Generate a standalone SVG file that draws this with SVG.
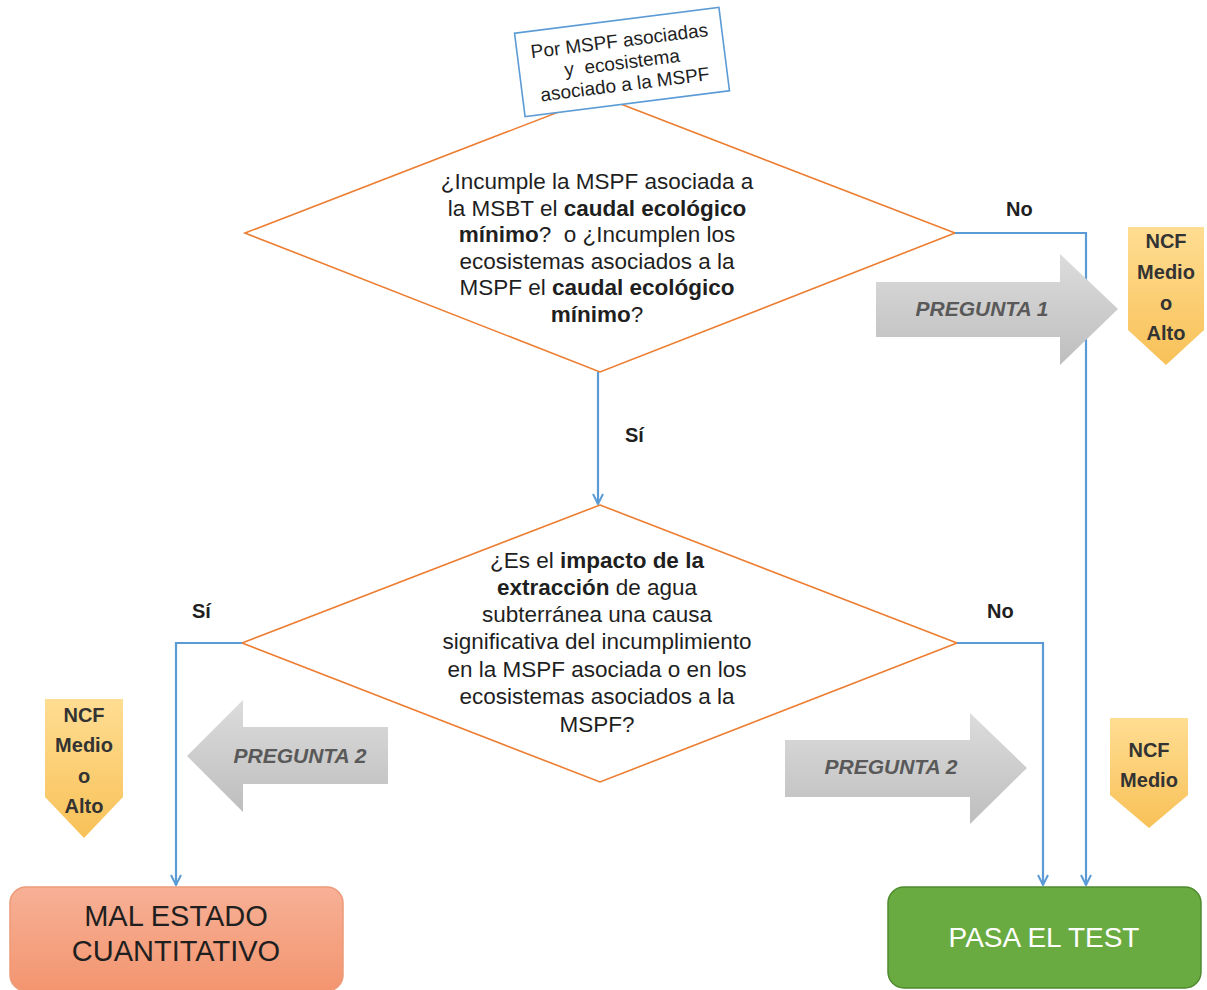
<svg xmlns="http://www.w3.org/2000/svg" width="1207" height="990" viewBox="0 0 1207 990">
  <style>
    text { font-family: "Liberation Sans", Arial, sans-serif; fill: #1f1f1f; }
    .q { font-size: 22.5px; text-anchor: middle; }
    .b { font-weight: bold; }
    .lbl { font-size: 20px; font-weight: bold; }
    .diamond { fill: #ffffff; stroke: #ED7D31; stroke-width: 1.6; }
    .conn { fill: none; stroke: #5B9BD5; stroke-width: 2.2; }
    .garrow { fill: url(#gray); }
    .gtext { font-size: 21px; font-weight: bold; font-style: italic; fill: #595959; text-anchor: middle; }
    .badge { fill: url(#gold); }
    .btext { font-size: 20px; font-weight: bold; fill: #333333; text-anchor: middle; }
    .big { font-size: 29px; text-anchor: middle; }
    .note { font-size: 19px; text-anchor: middle; }
  </style>
  <defs>
    <linearGradient id="gray" x1="0" y1="0" x2="0" y2="1">
      <stop offset="0" stop-color="#DCDCDC"/>
      <stop offset="1" stop-color="#BEBEBE"/>
    </linearGradient>
    <linearGradient id="gold" x1="0" y1="0" x2="0" y2="1">
      <stop offset="0" stop-color="#FFDD92"/>
      <stop offset="1" stop-color="#F8C158"/>
    </linearGradient>
    <linearGradient id="salmon" x1="0" y1="0" x2="0" y2="1">
      <stop offset="0" stop-color="#F7B096"/>
      <stop offset="1" stop-color="#F3956F"/>
    </linearGradient>
    <marker id="open" viewBox="0 0 12 12" refX="11" refY="6" markerWidth="12" markerHeight="12" markerUnits="userSpaceOnUse" orient="auto">
      <path d="M1,1 L11,6 L1,11" fill="none" stroke="#5B9BD5" stroke-width="2"/>
    </marker>
  </defs>

  <!-- decision 1 -->
  <g id="decision1">
    <polygon class="diamond" points="600,96 955,233 600,372 245,233"/>
    <text class="q" x="597" y="189">¿Incumple la MSPF asociada a</text>
    <text class="q" x="597" y="216">la MSBT el <tspan class="b">caudal ecológico</tspan></text>
    <text class="q" x="597" y="242" xml:space="preserve"><tspan class="b">mínimo</tspan>?  o ¿Incumplen los</text>
    <text class="q" x="597" y="269">ecosistemas asociados a la</text>
    <text class="q" x="597" y="295">MSPF el <tspan class="b">caudal ecológico</tspan></text>
    <text class="q" x="597" y="322"><tspan class="b">mínimo</tspan>?</text>
  </g>

  <!-- scope note -->
  <g id="scope" transform="translate(622,62) rotate(-7.2)">
    <rect x="-103" y="-42" width="206" height="84" fill="#ffffff" stroke="#5B9BD5" stroke-width="1.6"/>
    <text class="note" x="0" y="-15">Por MSPF asociadas</text>
    <text class="note" x="0" y="7" xml:space="preserve">y  ecosistema</text>
    <text class="note" x="0" y="29">asociado a la MSPF</text>
  </g>

  <!-- decision 2 -->
  <g id="decision2">
    <polygon class="diamond" points="600,505 957,643 600,782 242,643"/>
    <text class="q" x="597" y="568">¿Es el <tspan class="b">impacto de la</tspan></text>
    <text class="q" x="597" y="595"><tspan class="b">extracción</tspan> de agua</text>
    <text class="q" x="597" y="622">subterránea una causa</text>
    <text class="q" x="597" y="649">significativa del incumplimiento</text>
    <text class="q" x="597" y="677">en la MSPF asociada o en los</text>
    <text class="q" x="597" y="704">ecosistemas asociados a la</text>
    <text class="q" x="597" y="732">MSPF?</text>
  </g>

  <!-- connectors -->
  <g id="connectors">
    <path class="conn" d="M598,372 V504" marker-end="url(#open)"/>
    <path class="conn" d="M955,233 H1086 V885" marker-end="url(#open)"/>
    <path class="conn" d="M957,643 H1043 V885" marker-end="url(#open)"/>
    <path class="conn" d="M242,643 H176 V885" marker-end="url(#open)"/>
    <text class="lbl" x="625" y="442">Sí</text>
    <text class="lbl" x="1006" y="216">No</text>
    <text class="lbl" x="192" y="618">Sí</text>
    <text class="lbl" x="987" y="618">No</text>
  </g>

  <!-- question arrows -->
  <g id="q1-arrow">
    <polygon class="garrow" points="876,282 1060,282 1060,254 1118,309 1060,365 1060,337 876,337"/>
    <text class="gtext" x="982" y="316">PREGUNTA 1</text>
  </g>
  <g id="q2-left-arrow">
    <polygon class="garrow" points="388,727 243,727 243,700 187,756 243,812 243,784 388,784"/>
    <text class="gtext" x="300" y="763">PREGUNTA 2</text>
  </g>
  <g id="q2-right-arrow">
    <polygon class="garrow" points="785,740 970,740 970,713 1027,768 970,824 970,797 785,797"/>
    <text class="gtext" x="891" y="774">PREGUNTA 2</text>
  </g>

  <!-- NCF badges -->
  <g id="badge-top">
    <polygon class="badge" points="1128,227 1204,227 1204,330 1166,365 1128,330"/>
    <text class="btext" x="1166" y="248">NCF</text>
    <text class="btext" x="1166" y="279">Medio</text>
    <text class="btext" x="1166" y="310">o</text>
    <text class="btext" x="1166" y="340">Alto</text>
  </g>
  <g id="badge-left">
    <polygon class="badge" points="45,699 123,699 123,797 84,838 45,797"/>
    <text class="btext" x="84" y="722">NCF</text>
    <text class="btext" x="84" y="752">Medio</text>
    <text class="btext" x="84" y="783">o</text>
    <text class="btext" x="84" y="813">Alto</text>
  </g>
  <g id="badge-right">
    <polygon class="badge" points="1110,718 1188,718 1188,795 1149,828 1110,795"/>
    <text class="btext" x="1149" y="757">NCF</text>
    <text class="btext" x="1149" y="787">Medio</text>
  </g>

  <!-- outcomes -->
  <g id="bad-state">
    <rect x="10" y="887" width="333" height="104" rx="16" fill="url(#salmon)" stroke="#EC9A78" stroke-width="1.5"/>
    <text class="big" x="176" y="926">MAL ESTADO</text>
    <text class="big" x="176" y="961">CUANTITATIVO</text>
  </g>
  <g id="pass">
    <rect x="888" y="887" width="313" height="101" rx="16" fill="#6AAB41" stroke="#4F8A2E" stroke-width="1.5"/>
    <text class="big" x="1044" y="947" style="fill:#ffffff;font-size:28px">PASA EL TEST</text>
  </g>
</svg>
